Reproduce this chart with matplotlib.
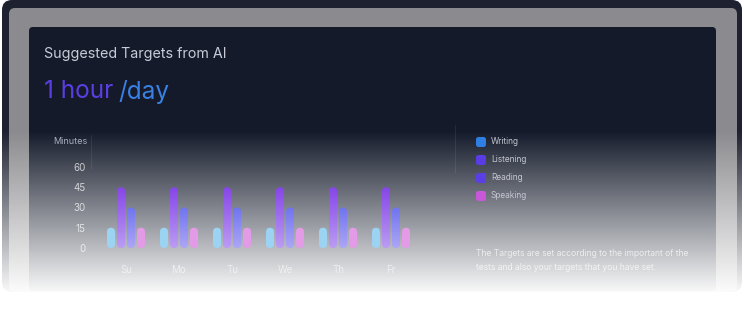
import numpy as np
import matplotlib.pyplot as plt
from matplotlib.patches import FancyBboxPatch

W, H = 744, 327

# chart data
days = ['Su', 'Mo', 'Tu', 'We', 'Th', 'Fr']
writing = [15, 15, 15, 15, 15, 15]
listening = [45, 45, 45, 45, 45, 45]
reading = [30, 30, 30, 30, 30, 30]
speaking = [15, 15, 15, 15, 15, 15]
yticks = [0, 15, 30, 45, 60]
legend_labels = ['Writing', 'Listening', 'Reading', 'Speaking']
legend_colors = ['#2f7fe2', '#5a3ce6', '#5b3fe6', '#c957d9']

plt.rcParams['font.family'] = ['Inter', 'DejaVu Sans']

fig = plt.figure(figsize=(W / 100, H / 100), dpi=100)
fig.patch.set_facecolor('white')


def px_axes(x0, y0, x1, y1, z):
    ax = fig.add_axes([x0 / W, 1 - y1 / H, (x1 - x0) / W, (y1 - y0) / H])
    ax.set_zorder(z)
    ax.patch.set_alpha(0)
    return ax


def rbox(ax, x0, y0, x1, y1, r, color, z=1):
    ax.add_patch(FancyBboxPatch((x0, y0), x1 - x0, y1 - y0,
                                boxstyle=f'round,pad=0,rounding_size={r}',
                                fc=color, ec='none', zorder=z))


# background: device frame + panel, faded to white towards the bottom
bg = px_axes(0, 0, W, H, 0)
rbox(bg, 2, 0, 742, 292, 10, '#1d2130')
rbox(bg, 9, 8, 737, 292, 6, '#8b8b8f')
rbox(bg, 29, 27, 716, 291, 4, '#141a2a')
bg.plot([455, 455], [125, 172], color='#262b3b', lw=0.8, zorder=2)
bg.plot([91, 91], [135, 168], color='#262b3b', lw=0.8, zorder=2)
fade = np.ones((H, 1, 4))
fade[:, 0, 3] = np.clip((np.arange(H) - 130) / 165, 0, 1)
bg.imshow(fade, extent=(0, W, H, 0), aspect='auto', zorder=5)
bg.set_xlim(0, W)
bg.set_ylim(H, 0)
bg.axis('off')

# bar chart
ax = px_axes(91, 135, 431, 248, 2)
ymax = 83.7
xl = (-35 / 53, 305 / 53)
ax.set_xlim(*xl)
ax.set_ylim(0, ymax)
for sp in ax.spines.values():
    sp.set_visible(False)
ax.set_yticks(yticks)
ax.set_yticklabels([str(t) for t in yticks])
ax.tick_params(axis='y', length=0, pad=3.8, labelsize=7, labelcolor=(1, 1, 1, 0.72))
ax.set_xticks(range(len(days)))
ax.set_xticklabels(days)
ax.tick_params(axis='x', length=0, pad=12, labelsize=7, labelcolor=(1, 1, 1, 0.6))

offsets = [-15 / 53, -5 / 53, 5 / 53, 15 / 53]
bw = 8 / 53
asp = (ymax / 113) / (1 / 53)
series = [writing, listening, reading, speaking]
bar_top = ['#9cd3f3', '#8646e8', '#6f74ef', '#e39be7']
bar_bot = ['#9cd3f3', '#bb9cf3', '#ada6f6', '#e39be7']


def hex_rgb(c):
    return np.array([int(c[k:k + 2], 16) / 255 for k in (1, 3, 5)])


for s, vals in enumerate(series):
    c0, c1 = hex_rgb(bar_top[s]), hex_rgb(bar_bot[s])
    for i, v in enumerate(vals):
        x0 = i + offsets[s] - bw / 2
        p = FancyBboxPatch((x0, 0), bw, v,
                           boxstyle=f'round,pad=0,rounding_size={bw / 2}',
                           mutation_aspect=asp, fc='none', ec='none')
        ax.add_patch(p)
        t = np.linspace(0, 1, 64)[:, None, None]
        grad = c0 * (1 - t) + c1 * t
        im = ax.imshow(grad, extent=(x0, x0 + bw, 0, v), aspect='auto', zorder=2)
        im.set_clip_path(p)
ax.set_xlim(*xl)
ax.set_ylim(0, ymax)

# text and legend layer
ui = px_axes(0, 0, W, H, 3)
ui.set_xlim(0, W)
ui.set_ylim(H, 0)
ui.axis('off')

ui.text(44, 54, 'Suggested Targets from AI', fontsize=10.3, color='#c9ccd8',
        va='center', ha='left')
t1 = ui.text(44, 98.5, '1 hour', fontsize=17.5, color='#5b3ee3',
             va='baseline', ha='left')
ui.annotate('/day', xy=(1, 0), xycoords=t1, xytext=(3.8, 0),
            textcoords='offset points', fontsize=17.5, color='#3a80e2',
            va='bottom', ha='left')
ui.text(87, 142, 'Minutes', fontsize=6.5, color='#a9adbb', va='center', ha='right')

for k, (lab, col) in enumerate(zip(legend_labels, legend_colors)):
    yc = 142 + 18 * k
    rbox(ui, 476, yc - 5, 486, yc + 5, 2.5, col, 3)
    ui.text(491, yc, lab, fontsize=6.0, color='#c4c7d3', va='center', ha='left')

ui.text(476, 254, 'The Targets are set according to the important of the',
        fontsize=6.2, color=(1, 1, 1, 0.7), va='center', ha='left')
ui.text(476, 267, 'tests and also your targets that you have set.',
        fontsize=6.2, color=(1, 1, 1, 0.7), va='center', ha='left')

fig.savefig('out.png', dpi=100, facecolor='white')
